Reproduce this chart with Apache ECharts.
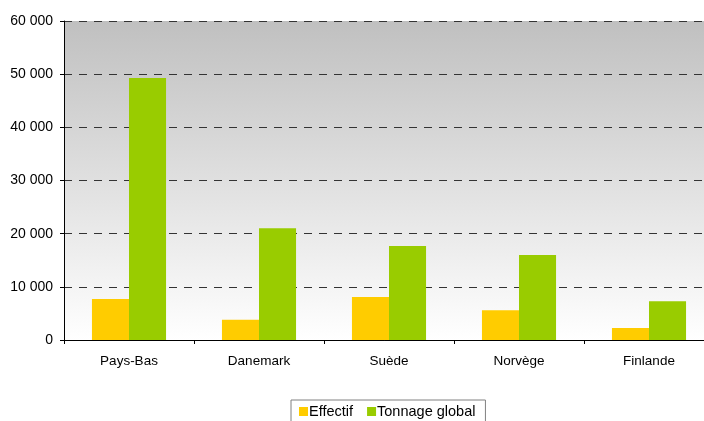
<!DOCTYPE html>
<html>
<head>
<meta charset="utf-8">
<script src="https://cdn.jsdelivr.net/npm/echarts@6/dist/echarts.min.js"></script>
<style>
  html, body { margin: 0; padding: 0; background: #fff; overflow: hidden; }
  #chart { width: 704px; height: 421px; }
</style>
</head>
<body>
<div id="chart"></div>
<script>
// Pays nordiques : effectif et tonnage global
const categories = ['Pays-Bas', 'Danemark', 'Suède', 'Norvège', 'Finlande'];
const effectif = [7700, 3800, 8100, 5600, 2250];
const tonnageGlobal = [49300, 21000, 17700, 16000, 7300];
const seriesNames = ['Effectif', 'Tonnage global'];

const fmt = v => String(v).replace(/\B(?=(\d{3})+(?!\d))/g, ' ');

const chart = echarts.init(document.getElementById('chart'), null, { renderer: 'canvas' });
chart.setOption({
  animation: false,
  textStyle: { fontFamily: 'Liberation Sans, Arial, sans-serif' },
  grid: {
    left: 64, top: 21, bottom: 81,
    width: 650,
    outerBoundsMode: 'none',
    containLabel: false,
    show: true,
    borderWidth: 0,
    backgroundColor: new echarts.graphic.LinearGradient(0, 0, 0, 1, [
      { offset: 0, color: '#c0c0c0' },
      { offset: 1, color: '#ffffff' }
    ])
  },
  legend: {
    data: seriesNames,
    left: 291,
    top: 400,
    itemWidth: 9,
    itemHeight: 9,
    itemGap: 14,
    padding: [4, 10, 8, 8],
    borderColor: '#808080',
    borderWidth: 1,
    textStyle: { fontSize: 14.5, color: '#000', padding: [0, 0, 0, -4] },
    icon: 'rect'
  },
  xAxis: {
    type: 'category',
    data: categories,
    axisLine: { lineStyle: { color: '#000', width: 1 } },
    axisTick: { show: true, length: 4, lineStyle: { color: '#000' } },
    axisLabel: { color: '#000', fontSize: 13.5, margin: 14 }
  },
  yAxis: {
    type: 'value',
    min: 0,
    max: 60000,
    interval: 10000,
    axisLine: { show: true, lineStyle: { color: '#000', width: 1 } },
    axisTick: { show: true, length: 4, lineStyle: { color: '#000' } },
    axisLabel: { color: '#000', fontSize: 14, margin: 11, formatter: fmt },
    splitLine: {
      show: true,
      lineStyle: { color: '#333', type: [8, 7], width: 1 }
    }
  },
  series: [
    {
      name: seriesNames[0],
      type: 'bar',
      data: effectif,
      itemStyle: { color: '#ffcc00' },
      barGap: '0%',
      barCategoryGap: '43%'
    },
    {
      name: seriesNames[1],
      type: 'bar',
      data: tonnageGlobal,
      itemStyle: { color: '#99cc00' },
      barGap: '0%',
      barCategoryGap: '43%'
    }
  ]
});
</script>
</body>
</html>
